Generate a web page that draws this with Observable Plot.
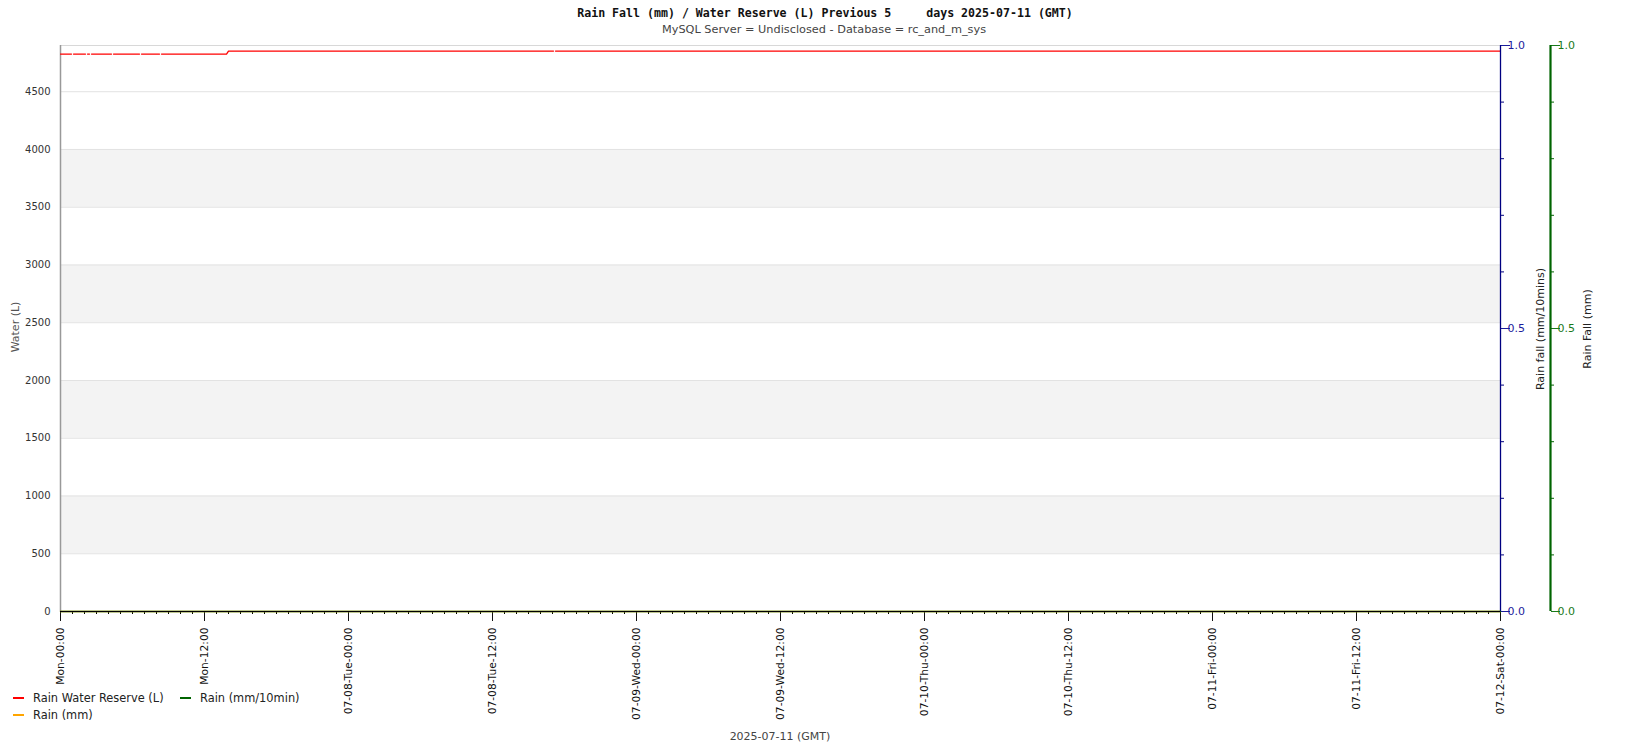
<!DOCTYPE html>
<html><head><meta charset="utf-8">
<script src="https://cdn.jsdelivr.net/npm/d3@7"></script>
<script src="https://cdn.jsdelivr.net/npm/@observablehq/plot@0.6"></script>
<style>
body{margin:0;background:#fff;}
#wrap{position:relative;width:1650px;height:750px;overflow:hidden;font-family:"DejaVu Sans",sans-serif;}
#wrap svg{position:absolute;left:0;top:0;}
.t{position:absolute;white-space:nowrap;}
.rot{position:absolute;white-space:nowrap;transform:translate(-50%,-50%) rotate(-90deg);}
.sw{position:absolute;width:11px;height:2px;}
</style></head><body><div id="wrap"></div>
<script>
// ---- data ----
const xDomain = ["2025-07-07T00:00Z", "2025-07-12T00:00Z"];
const yDomain = [0, 4900];
const yTicks = [0, 500, 1000, 1500, 2000, 2500, 3000, 3500, 4000, 4500];
const bandLows = [500, 1500, 2500, 3500];
const xMajorTicks = ["2025-07-07T00:00Z","2025-07-07T12:00Z","2025-07-08T00:00Z","2025-07-08T12:00Z","2025-07-09T00:00Z","2025-07-09T12:00Z","2025-07-10T00:00Z","2025-07-10T12:00Z","2025-07-11T00:00Z","2025-07-11T12:00Z","2025-07-12T00:00Z"];
const xMajorLabels = ["Mon-00:00","Mon-12:00","07-08-Tue-00:00","07-08-Tue-12:00","07-09-Wed-00:00","07-09-Wed-12:00","07-10-Thu-00:00","07-10-Thu-12:00","07-11-Fri-00:00","07-11-Fri-12:00","07-12-Sat-00:00"];
// Rain water reserve (L); null = missing sample
const wrTime = ["2025-07-07T00:00Z","2025-07-07T00:55Z","2025-07-07T01:00Z","2025-07-07T01:05Z",
  "2025-07-07T02:05Z","2025-07-07T02:10Z","2025-07-07T02:15Z","2025-07-07T02:25Z","2025-07-07T02:30Z","2025-07-07T02:35Z",
  "2025-07-07T04:15Z","2025-07-07T04:20Z","2025-07-07T04:25Z","2025-07-07T06:35Z","2025-07-07T06:40Z","2025-07-07T06:45Z",
  "2025-07-07T08:15Z","2025-07-07T08:20Z","2025-07-07T08:25Z","2025-07-07T13:50Z","2025-07-07T14:00Z",
  "2025-07-08T17:05Z","2025-07-08T17:10Z","2025-07-08T17:15Z","2025-07-12T00:00Z"];
const wrLevel = [4826,4826,null,4826,
  4826,null,4826,4826,null,4826,
  4826,null,4826,4826,null,4826,
  4826,null,4826,4826,4852,
  4852,null,4852,4852];
// Rain series (all zero over the period)
const rainTime = ["2025-07-07T00:00Z","2025-07-12T00:00Z"];
const rainMm = [0, 0];
const rain10min = [0, 0];
const rightDomain = [0, 1];
const rightMajor = [0, 0.5, 1];
const rightMinor = [0.1, 0.2, 0.3, 0.4, 0.6, 0.7, 0.8, 0.9];

// ---- build ----
const wrap = document.getElementById("wrap");
const D = s => new Date(s);
const xd = xDomain.map(D);
const labelMap = new Map(xMajorTicks.map((t, i) => [+D(t), xMajorLabels[i]]));
const hourTicks = d3.utcHour.range(xd[0], d3.utcHour.offset(xd[1], 1));
const M = {width:1650, height:750, marginLeft:60, marginRight:150, marginTop:45, marginBottom:139};

const main = Plot.plot({
  ...M,
  x: {type:"utc", domain: xd},
  y: {domain: yDomain},
  style: {background:"transparent", fontFamily:"DejaVu Sans", fontSize:"10px", color:"#222"},
  marks: [
    Plot.rect(bandLows, {x1: () => xd[0], x2: () => xd[1], y1: d => d, y2: d => d + 500, fill:"#f3f3f3"}),
    Plot.ruleY(yTicks.filter(v => v > 0), {stroke:"#e2e2e2"}),
    Plot.ruleY([yDomain[1]], {stroke:"#d8d8d8"}),
    Plot.ruleX([xd[0]], {stroke:"#999", strokeWidth:1.5}),
    Plot.line(wrTime.map((t, i) => i), {x: i => D(wrTime[i]), y: i => wrLevel[i], stroke:"#ff0000", strokeWidth:1.3}),
    Plot.axisY({ticks: yTicks, tickSize:0, tickPadding:10, tickFormat: d3.format("d"), color:"#333", fontSize:10, label:null}),
    Plot.axisX({ticks: hourTicks, tickSize:3, tickFormat: () => "", color:"#000", label:null}),
    Plot.axisX({ticks: xMajorTicks.map(D), tickSize:10, tickPadding:6, tickRotate:-90, tickFormat: d => labelMap.get(+d), color:"#111", fontSize:10.7, label:null}),
    Plot.ruleY([0], {stroke:"#000"})
  ]
});
wrap.appendChild(main);

const blue = Plot.plot({
  ...M,
  x: {type:"utc", domain: xd, axis:null},
  y: {domain: rightDomain, axis:null},
  style: {background:"transparent", fontFamily:"DejaVu Sans", fontSize:"11px"},
  marks: [
    Plot.line(rainTime.map((t, i) => i), {x: i => D(rainTime[i]), y: i => rainMm[i], stroke:"orange", strokeWidth:1.3}),
    Plot.line(rainTime.map((t, i) => i), {x: i => D(rainTime[i]), y: i => rain10min[i], stroke:"#006400", strokeWidth:1.3}),
    Plot.ruleY([0], {stroke:"#000"}),
    Plot.axisY({anchor:"right", ticks: rightMinor, tickSize:3, tickFormat: () => "", color:"navy", label:null}),
    Plot.axisY({anchor:"right", ticks: rightMajor, tickSize:9, tickPadding:-2, tickFormat: d3.format(".1f"), color:"#1c1c9c", fontSize:11, label:null}),
    Plot.ruleX([xd[1]], {stroke:"navy", strokeWidth:1.3})
  ]
});
wrap.appendChild(blue);

const green = Plot.plot({
  ...M, marginLeft:1520, marginRight:100,
  x: {domain:[0, 1], axis:null},
  y: {domain: rightDomain, axis:null},
  style: {background:"transparent", fontFamily:"DejaVu Sans", fontSize:"11px"},
  marks: [
    Plot.axisY({anchor:"right", ticks: rightMinor, tickSize:3, tickFormat: () => "", color:"#006400", label:null}),
    Plot.axisY({anchor:"right", ticks: rightMajor, tickSize:9, tickPadding:-2, tickFormat: d3.format(".1f"), color:"#1a7a1a", fontSize:11, label:null}),
    Plot.ruleX([1], {stroke:"#006400", strokeWidth:2.2})
  ]
});
wrap.appendChild(green);

function addText(txt, css, cls = "t") {
  const d = document.createElement("div");
  d.className = cls; d.textContent = txt;
  Object.assign(d.style, css);
  wrap.appendChild(d);
  return d;
}
addText("Rain Fall (mm) / Water Reserve (L) Previous 5     days 2025-07-11 (GMT)",
  {left:"825px", top:"13px", transform:"translate(-50%,-50%)", fontFamily:"'DejaVu Sans Mono',monospace", fontWeight:"bold", fontSize:"11.6px", color:"#111", whiteSpace:"pre"});
addText("MySQL Server = Undisclosed - Database = rc_and_m_sys",
  {left:"824px", top:"29px", transform:"translate(-50%,-50%)", fontSize:"11.3px", color:"#444"});
addText("2025-07-11 (GMT)", {left:"780px", top:"736px", transform:"translate(-50%,-50%)", fontSize:"11px", color:"#444"});
addText("Water (L)", {left:"15px", top:"327px", fontSize:"11px", color:"#555"}, "rot");
addText("Rain fall (mm/10mins)", {left:"1540px", top:"329px", fontSize:"11px", color:"#222"}, "rot");
addText("Rain Fall (mm)", {left:"1587px", top:"329px", fontSize:"11px", color:"#222"}, "rot");

const legend = [
  {name:"Rain Water Reserve (L)", color:"#ff0000", x:13, y:698},
  {name:"Rain (mm/10min)", color:"#006400", x:180, y:698},
  {name:"Rain (mm)", color:"orange", x:13, y:715}
];
for (const l of legend) {
  const s = document.createElement("div");
  s.className = "sw"; s.style.left = l.x + "px"; s.style.top = (l.y - 1) + "px"; s.style.background = l.color;
  wrap.appendChild(s);
  addText(l.name, {left:(l.x + 20) + "px", top:(l.y - 7) + "px", fontSize:"11.4px", lineHeight:"14px", color:"#222"});
}
</script></body></html>
